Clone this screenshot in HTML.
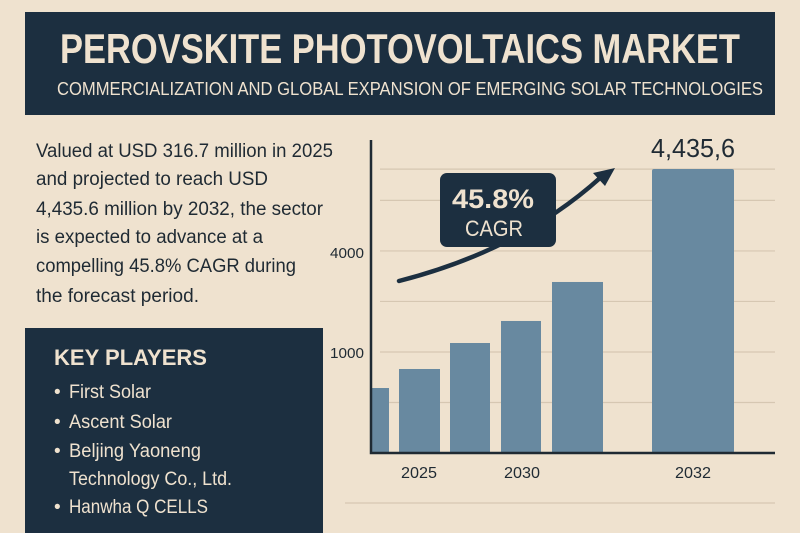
<!DOCTYPE html>
<html><head><meta charset="utf-8">
<style>
body{margin:0;width:800px;height:533px;background:#efe2cf;overflow:hidden;position:relative;font-family:"Liberation Sans",sans-serif;color:#1f2a33}
svg{position:absolute;left:0;top:0}
</style></head><body>
<svg id="chart" width="800" height="533" font-family="Liberation Sans, sans-serif">
<rect x="25" y="12" width="750" height="103" fill="#1c2f40"/>
<text x="60" y="63" font-size="42" font-weight="bold" fill="#efe2cf" textLength="680" lengthAdjust="spacingAndGlyphs">PEROVSKITE PHOTOVOLTAICS MARKET</text>
<text x="57" y="95" font-size="18" fill="#efe2cf" textLength="706" lengthAdjust="spacingAndGlyphs">COMMERCIALIZATION AND GLOBAL EXPANSION OF EMERGING SOLAR TECHNOLOGIES</text>
<g font-size="19" fill="#1f2a33">
<text x="36" y="157" textLength="297" lengthAdjust="spacingAndGlyphs">Valued at USD 316.7 million in 2025</text>
<text x="36" y="185" textLength="232" lengthAdjust="spacingAndGlyphs">and projected to reach USD</text>
<text x="36" y="215" textLength="287" lengthAdjust="spacingAndGlyphs">4,435.6 million by 2032, the sector</text>
<text x="36" y="243" textLength="227" lengthAdjust="spacingAndGlyphs">is expected to advance at a</text>
<text x="36" y="272" textLength="260" lengthAdjust="spacingAndGlyphs">compelling 45.8% CAGR during</text>
<text x="36" y="302" textLength="163" lengthAdjust="spacingAndGlyphs">the forecast period.</text>
</g>
<rect x="25" y="328" width="298" height="210" fill="#1c2f40"/>
<text x="54" y="365" font-size="22" font-weight="bold" fill="#efe2cf" textLength="153" lengthAdjust="spacingAndGlyphs">KEY PLAYERS</text>
<g font-size="19" fill="#efe2cf">
<text x="54" y="398">•</text>
<text x="69" y="398" textLength="82" lengthAdjust="spacingAndGlyphs">First Solar</text>
<text x="54" y="428">•</text>
<text x="69" y="428" textLength="103" lengthAdjust="spacingAndGlyphs">Ascent Solar</text>
<text x="54" y="457">•</text>
<text x="69" y="457" textLength="132" lengthAdjust="spacingAndGlyphs">Beljing Yaoneng</text>
<text x="69" y="485" textLength="163" lengthAdjust="spacingAndGlyphs">Technology Co., Ltd.</text>
<text x="54" y="513">•</text>
<text x="69" y="513" textLength="139" lengthAdjust="spacingAndGlyphs">Hanwha Q CELLS</text>
</g>
</svg>
<script>
const values=[1015,1312,1718,2062,2671,4435.6];
const barX0=[371,399,450,501,552,652];
const barW=[18,41,40,40,51,82];
const gridValues=[789,1578,2367,3156,3945,4434];
const tickValues=[1578,3140];
const tickLabels=["1000","4000"];
const yearLabels=["2025","2030","2032"];
const yearX=[419,522,693];
const NS="http://www.w3.org/2000/svg";
const svg=document.getElementById('chart');
const base=453, k=284/4435.6;
function y(v){return base-v*k;}
function mk(t,a,txt){const e=document.createElementNS(NS,t);for(const n in a)e.setAttribute(n,a[n]);if(txt!==undefined)e.textContent=txt;svg.appendChild(e);return e;}
gridValues.forEach((v,i)=>{const e=mk('line',{x1:380,x2:775,y1:y(v),y2:y(v),stroke:'#d6c7b2','stroke-width':1.2});

});
const bl=mk('line',{x1:345,x2:775,y1:503,y2:503,stroke:'#d6c7b2','stroke-width':1.2});


tickValues.forEach((v,i)=>{const e=mk('text',{x:364,y:y(v)+6,'text-anchor':'end','font-size':15,fill:'#1f2a33',textLength:34,lengthAdjust:'spacingAndGlyphs'},tickLabels[i]);

});
values.forEach((v,i)=>{const e=mk('rect',{x:barX0[i],y:y(v),width:barW[i],height:base-y(v),fill:'#6889a0',rx:i==5?2:0});

});
yearLabels.forEach((l,i)=>{
const e=mk('text',{x:yearX[i],y:478,'text-anchor':'middle','font-size':16,fill:'#1f2a33',textLength:36,lengthAdjust:'spacingAndGlyphs'},l);

});
const vl=mk('text',{x:693,y:y(values[5])-12,'text-anchor':'middle','font-size':26,fill:'#1f2a33',textLength:84,lengthAdjust:'spacingAndGlyphs'},'4,435,6');


const ax=mk('path',{d:'M371 140 V453 H775',fill:'none',stroke:'#1f2a33','stroke-width':2.5});


const ar=mk('path',{d:'M399 281 Q520 250 600 178',fill:'none',stroke:'#1c2f40','stroke-width':4.5,'stroke-linecap':'round'});


const ah=mk('path',{d:'M615 168 L593 173 L605 186 Z',fill:'#1c2f40'});


const cb=mk('rect',{x:440,y:173,width:116,height:74,rx:7,fill:'#1c2f40'});


const c1=mk('text',{x:493,y:208,'text-anchor':'middle','font-size':27,'font-weight':'bold',fill:'#efe2cf',textLength:82,lengthAdjust:'spacingAndGlyphs'},'45.8%');


const c2=mk('text',{x:494,y:236,'text-anchor':'middle','font-size':22,fill:'#efe2cf',textLength:58,lengthAdjust:'spacingAndGlyphs'},'CAGR');


</script>
</body></html>
